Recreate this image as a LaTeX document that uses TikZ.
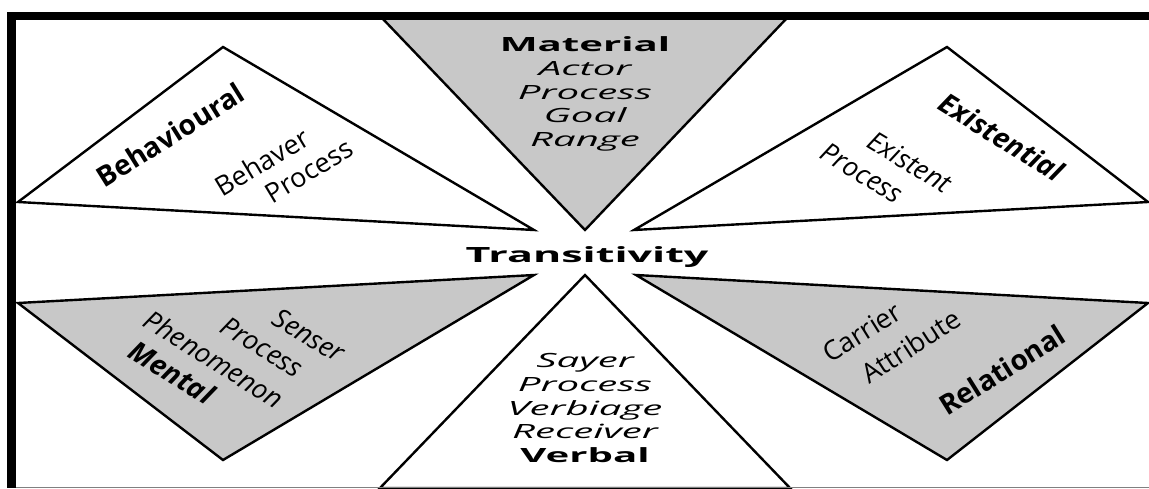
\documentclass[tikz,border=0pt]{standalone}
\usepackage{fontspec}
\setmainfont{Open Sans}
% wide face for the upright stacked labels
\newfontfamily\widefont[FakeStretch=2.05]{Open Sans}
\definecolor{wedgegray}{RGB}{200,200,200}
\begin{document}
\begin{tikzpicture}[x=1pt, y=-1pt,
  wedge/.style={draw=black, line width=2.4pt, line join=miter},
  shadedwedge/.style={wedge, fill=wedgegray},
  plainwedge/.style={wedge, fill=white},
  tilted/.style={inner sep=0pt, font=\fontsize{27}{32}\selectfont},
  tiltedit/.style={inner sep=0pt, font=\fontsize{27}{32}\selectfont\itshape},
  tiltedbold/.style={inner sep=0pt, font=\fontsize{28}{33}\selectfont\bfseries},
  tiltedboldit/.style={inner sep=0pt, font=\fontsize{28}{33}\selectfont\bfseries\itshape},
  stack/.style={inner sep=0pt, align=center, font=\widefont\fontsize{19.6}{23.8}\selectfont}
]
\useasboundingbox (0,0) rectangle (1149,488);
\fill[white] (0,0) rectangle (1149,488);

% six wedges around the centre
\draw[plainwedge]  (18,202) -- (223,47) -- (534,230) -- cycle;   % Behavioural
\draw[shadedwedge] (382,18) -- (787,18) -- (585,230) -- cycle;   % Material
\draw[plainwedge]  (947,47) -- (1148,202) -- (634,230) -- cycle; % Existential
\draw[shadedwedge] (18,303) -- (534,275) -- (223,460) -- cycle;  % Mental
\draw[plainwedge]  (585,275) -- (790,488) -- (380,488) -- cycle; % Verbal
\draw[shadedwedge] (636,275) -- (1148,303) -- (947,460) -- cycle;% Relational

% frame
\fill[black] (7,12) rectangle (1149,20);
\fill[black] (7,12) rectangle (16,488);
\draw[gray, line width=1pt] (16,487) -- (1149,487);

% centre label
\node[inner sep=0pt, anchor=base, font=\widefont\fontsize{21}{25}\selectfont\bfseries]
  (trans) at (587,262) {Transitivity};

% Material
\node[stack] (material) at (585,94)
  {{\bfseries Material}\\\itshape Actor\\\itshape Process\\\itshape Goal\\\itshape Range};

% Verbal
\node[stack] (verbal) at (585,408)
  {\itshape Sayer\\\itshape Process\\\itshape Verbiage\\\itshape Receiver\\{\bfseries Verbal}};

% Behavioural
\node[tiltedbold, rotate=32] (behav) at (170,135) {Behavioural};
\node[tilted, rotate=31] (behaver) at (262,162) {Behaver};
\node[tilted, rotate=31] (behproc) at (309,171) {Process};

% Existential
\node[tiltedboldit, rotate=-32] (exist) at (1002,137) {Existential};
\node[tiltedit, rotate=-31] (existent) at (910,162) {Existent};
\node[tiltedit, rotate=-31] (exproc) at (862,173) {Process};

% Mental
\node[tiltedit, rotate=-31] (senser) at (309,335) {Senser};
\node[tiltedit, rotate=-32] (menproc) at (262,347) {Process};
\node[tiltedit, rotate=-32] (phenom) at (214,359) {Phenomenon};
\node[tiltedboldit, rotate=-32] (mental) at (172,372) {Mental};

% Relational
\node[tilted, rotate=32] (carrier) at (862,332) {Carrier};
\node[tilted, rotate=33] (attrib) at (911,346) {Attribute};
\node[tiltedbold, rotate=32] (relat) at (1002,370) {Relational};
\end{tikzpicture}
\end{document}
